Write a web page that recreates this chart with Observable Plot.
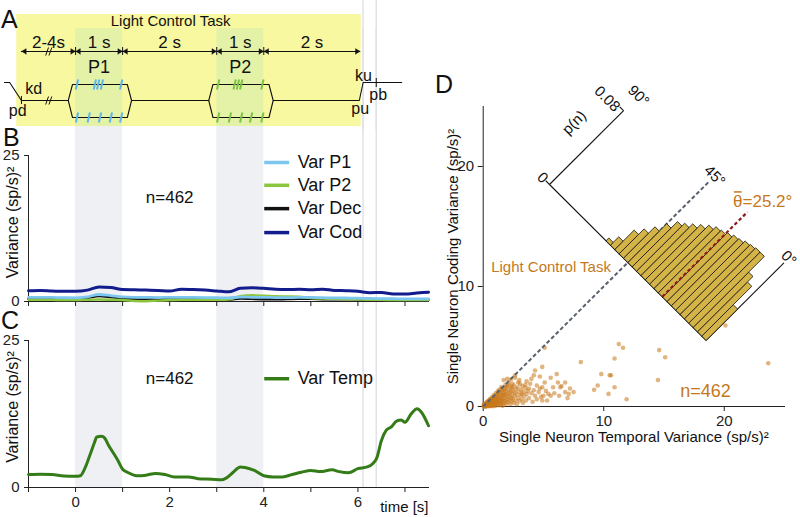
<!DOCTYPE html>
<html><head><meta charset="utf-8">
<script src="https://cdn.jsdelivr.net/npm/d3@7"></script>
<script src="https://cdn.jsdelivr.net/npm/@observablehq/plot@0.6"></script>
<style>
body{margin:0;background:#fff;}
#fig{position:relative;width:800px;height:517px;overflow:hidden;font-family:"Liberation Sans",Arial,Helvetica,sans-serif;}
</style></head><body><div id="fig"></div>
<script>
// ================= DATA =================
// Panel A: task epochs (s)
const epochStart = [-1.15, 0, 1, 3, 4];
const epochEnd   = [0, 1, 3, 4, 6.05];
const epochLabel = ["2-4s", "1 s", "2 s", "1 s", "2 s"];
const stimName  = ["P1", "P2"];
const stimStart = [0, 3];
const stimEnd   = [1, 4];
const hexStart  = [-0.155, 2.83];
const hexEnd    = [1.19, 4.2];
const p1TopTicks = [0.03, 0.41, 0.48, 0.56, 0.97];
const p1BotTicks = [0.03, 0.28, 0.52, 0.75, 0.97];
const p2TopTicks = [3.03, 3.38, 3.45, 3.52, 3.97];
const p2BotTicks = [3.03, 3.28, 3.52, 3.73, 3.97];
const eventName = ["pd", "pu", "ku", "pb"];
const eventTime = [-1.15, 6.03, 6.11, 6.39];
const eventLines = [6.11, 6.39];
const timeTicks = [-1, 0, 1, 2, 3, 4, 5, 6, 7];

// Panel B: population variance components (sp/s)^2
const tB = [-1,-0.75,-0.5,-0.25,0,0.25,0.5,0.75,1,1.25,1.5,1.75,2,2.25,2.5,2.75,3,3.25,3.5,3.75,4,4.25,4.5,4.75,5,5.25,5.5,5.75,6,6.25,6.5,6.75,7,7.25,7.5];
const varP1  = [0.7,0.72,0.7,0.65,0.62,0.8,1.2,1.0,0.8,0.72,0.7,0.68,0.7,0.72,0.7,0.68,0.65,0.62,0.75,0.72,0.7,0.68,0.66,0.7,0.7,0.65,0.62,0.6,0.58,0.52,0.5,0.48,0.45,0.45,0.45];
const varP2  = [0.3,0.28,0.3,0.25,0.25,0.3,0.35,0.3,0.25,0.1,0.05,0.15,0.25,0.3,0.3,0.28,0.3,0.35,0.9,1.05,1.0,0.9,0.85,0.8,0.6,0.5,0.45,0.4,0.35,0.3,0.3,0.25,0.25,0.25,0.25];
const varDec = [0.45,0.5,0.45,0.4,0.4,0.6,0.95,0.75,0.5,0.4,0.35,0.38,0.4,0.42,0.38,0.35,0.35,0.32,0.5,0.45,0.4,0.38,0.42,0.45,0.45,0.4,0.38,0.4,0.35,0.32,0.3,0.28,0.3,0.3,0.3];
const varCod = [1.85,1.9,1.8,1.75,1.75,1.95,2.5,2.4,2.05,2.0,1.95,1.9,1.8,2.1,2.05,1.95,1.8,1.65,2.25,2.35,2.25,2.1,2.05,2.1,2.0,2.1,1.9,1.85,1.75,1.5,1.55,1.3,1.3,1.45,1.6];
const seriesB = ["Var P1", "Var P2", "Var Dec", "Var Cod"];
const colorsB = ["#7cc6ef", "#8cc63f", "#111111", "#131c8c"];

// Panel C: temporal variance
const tC = [-1,-0.75,-0.5,-0.25,0,0.1,0.2,0.3,0.4,0.45,0.55,0.62,0.7,0.8,0.9,1.0,1.1,1.3,1.5,1.7,1.9,2.1,2.4,2.6,2.9,3.1,3.2,3.35,3.5,3.6,3.8,4.0,4.2,4.4,4.6,4.8,5.0,5.2,5.45,5.6,5.8,6.0,6.2,6.32,6.4,6.5,6.6,6.71,6.82,6.92,7.0,7.13,7.26,7.35,7.5];
const varTemp = [2.2,2.25,2.2,1.95,1.9,2.0,3.3,5.4,7.6,8.6,8.7,8.4,7.2,5.9,4.6,3.1,2.6,2.0,2.1,2.4,2.2,1.8,1.8,1.5,1.4,1.3,1.6,2.6,3.5,3.4,2.9,2.0,1.8,1.8,2.2,2.6,2.9,2.7,3.0,2.7,2.5,3.2,3.5,4.1,5.0,8.0,9.7,10.3,11.3,11.5,11.1,12.5,13.4,12.8,10.5];
const nNeurons = 462;

// Panel D: single neurons [temporal variance, coding variance]
const neuronVar = [
[11.25,5.2],[11.6,4.9],[10.9,4.0],[14.6,4.7],[15.1,4.1],[14.5,2.2],[11.9,0.6],[10.9,1.6],[10.6,2.6],[9.8,2.7],
[9.5,1.75],[9.2,1.4],[10.4,1.05],[8.1,3.7],[23.65,3.6],[5.1,4.9],[4.9,3.3],[4.3,3.0],[6.1,2.7],[20.1,6.75],
[4.7,2.5],[4.2,2.6],[5.6,2.4],[6.2,2.0],[6.8,2.0],[7.2,1.5],[6.8,1.2],[7.0,0.7],[5.8,1.6],[5.4,1.05],
[5.6,0.9],[5.0,0.9],[4.7,1.5],[4.45,1.75],[4.45,0.6],[4.9,0.5],[3.8,1.5],[3.5,1.8],[2.9,2.0],[2.4,1.6],
[3.2,1.05],[1.7,2.2],[10.5,2.6],[4.0,2.3],[5.1,2.0],[4.9,1.6],[6.4,1.6],[7.1,1.05],[2.65,2.6],
[0.05,0.03],[0.08,0.1],[0.12,0.06],[0.15,0.14],[0.18,0.02],[0.2,0.2],[0.22,0.09],[0.26,0.15],[0.28,0.27],[0.3,0.05],
[0.33,0.19],[0.35,0.32],[0.37,0.11],[0.4,0.24],[0.42,0.38],[0.44,0.07],[0.47,0.3],[0.5,0.16],[0.52,0.45],[0.55,0.22],
[0.57,0.36],[0.6,0.1],[0.62,0.52],[0.65,0.28],[0.67,0.42],[0.7,0.18],[0.72,0.6],[0.75,0.33],[0.78,0.48],[0.8,0.12],
[0.82,0.68],[0.85,0.25],[0.88,0.55],[0.9,0.4],[0.92,0.76],[0.95,0.2],[0.98,0.62],[1.0,0.35],[1.02,0.85],[1.05,0.5],
[1.08,0.15],[1.1,0.7],[1.12,0.95],[1.15,0.42],[1.18,0.58],[1.2,0.28],[1.22,1.05],[1.25,0.8],[1.28,0.5],[1.3,0.1],
[1.32,0.65],[1.35,1.15],[1.38,0.38],[1.4,0.9],[1.43,0.55],[1.45,1.25],[1.48,0.22],[1.5,0.75],[1.53,1.0],[1.55,0.45],
[1.58,1.35],[1.6,0.6],[1.63,0.3],[1.65,1.1],[1.68,0.85],[1.7,1.45],[1.73,0.5],[1.75,0.15],[1.78,1.2],[1.8,0.7],
[1.83,1.55],[1.85,0.4],[1.88,0.95],[1.9,1.3],[1.93,0.25],[1.95,1.65],[1.98,0.6],[2.0,1.05],[2.03,1.8],[2.05,0.8],
[2.08,0.35],[2.1,1.4],[2.13,2.0],[2.15,0.55],[2.18,1.15],[2.2,0.9],[2.23,1.7],[2.25,0.2],[2.28,1.25],[2.3,2.25],
[2.33,0.7],[2.35,1.5],[2.38,0.45],[2.4,1.0],[2.43,1.9],[2.45,0.65],[2.5,1.3],[2.53,0.3],[2.55,1.75],[2.6,0.85],
[2.63,1.15],[2.65,2.4],[2.7,0.5],[2.73,1.45],[2.78,1.0],[2.8,0.2],[2.85,1.6],[2.9,0.7],[2.95,1.25],[3.0,0.45],
[3.05,1.9],[3.1,0.95],[3.15,1.4],[3.2,0.6],[3.25,1.7],[3.3,0.3],[3.35,1.2],[3.4,0.85],[3.5,1.55],[3.55,0.5],
[3.6,1.05],[3.7,1.3],[3.8,0.7],[3.9,1.9],[4.0,1.1],[4.1,0.4],[4.2,1.35],[4.3,0.9],[4.6,1.2],[4.8,0.8],
[5.2,1.3],[5.3,0.5],[5.9,1.1],[6.3,0.9],[6.5,1.7],[7.5,1.2],[3.0,2.2],[3.6,2.1],[2.0,2.3],[1.5,1.6],
[1.2,1.25],[0.9,0.95],[0.6,0.65],[0.1,0.0],[0.2,0.0],[0.3,0.02],[0.05,0.15],[0.12,0.2],[0.4,0.05],[0.5,0.02],
[0.6,0.04],[0.7,0.06],[0.8,0.03],[0.9,0.1],[1.0,0.05],[1.1,0.25],[1.25,0.35],[1.4,0.15],[1.6,0.05],[1.7,0.95],
[0.35,0.42],[0.45,0.5],[0.25,0.3],[0.55,0.58],[1.05,1.1],[1.3,1.38],[0.75,0.8],[1.55,1.5],[1.85,1.8]
];
// angular histogram of theta = atan(coding/temporal), 2.5 deg bins
const binLo = [0,2.5,5,7.5,10,12.5,15,17.5,20,22.5,25,27.5,30,32.5,35,37.5,40,42.5,45,47.5,50,52.5,55];
const binP  = [0.034,0.054,0.060,0.077,0.077,0.076,0.075,0.073,0.072,0.070,0.068,0.067,0.064,0.060,0.056,0.052,0.049,0.042,0.034,0.027,0.021,0.009,0.003];
const binWidth = 2.5;
const meanTheta = 25.2;
const pAxisMax = 0.08;

// ================= LAYOUT =================
const fig = document.getElementById("fig");
const font = '"Liberation Sans", Arial, Helvetica, sans-serif';
function place(el, left, top) {
  el.style.position = "absolute"; el.style.left = left + "px"; el.style.top = top + "px";
  fig.appendChild(el);
}
const X = {domain: [-1, 7.5]};
const LM = 28, RM = 12, LW = 440;

// ---- background: stimulus bands & event lines spanning A-C ----
const stimBands = stimStart.map((s, i) => ({start: s, end: stimEnd[i], name: stimName[i]}));
place(Plot.plot({
  width: LW, height: 517, marginLeft: LM, marginRight: RM, marginTop: 28, marginBottom: 30,
  x: {...X, axis: null}, y: {domain: [0, 1], axis: null},
  style: {background: "transparent"},
  marks: [
    Plot.rect(stimBands, {x1: "start", x2: "end", fill: "#eef0f3"}),
    Plot.ruleX(eventLines, {stroke: "#e0e3e8", strokeWidth: 1.5})
  ]
}), 0, 0);

// ---- Panel A ----
const LV = {title: 21, dur: 42, arrow: 51, plab: 67, up: 82, top: 84, mid: 100, bot: 117, yTop: 14, yBot: 126, bandTop: 28};
const rise = 0.09;
const schem = [];
function seg(id, pts) { pts.forEach(([t, l]) => schem.push({id, t, l})); }
seg(0, [[-1.51, LV.up], [-1.40, LV.up], [eventTime[0], LV.mid], [hexStart[0], LV.mid]]);
hexStart.forEach((h0, i) => {
  const h1 = hexEnd[i];
  seg(1 + i, [[h0, LV.mid], [h0 + rise, LV.top], [h1 - rise, LV.top], [h1, LV.mid], [h1 - rise, LV.bot], [h0 + rise, LV.bot], [h0, LV.mid]]);
});
seg(3, [[hexEnd[0], LV.mid], [hexStart[1], LV.mid]]);
seg(4, [[hexEnd[1], LV.mid], [eventTime[1], LV.mid], [eventTime[2], LV.up], [6.93, LV.up]]);

const heads = [];
const hl = 0.1, hw = 2.8;
epochStart.forEach((s, i) => {
  const e = epochEnd[i];
  [[s, 0], [s + hl, -hw], [s + hl, hw]].forEach(([t, d]) => heads.push({id: "a" + i, t, l: LV.arrow + d}));
  [[e, 0], [e - hl, -hw], [e - hl, hw]].forEach(([t, d]) => heads.push({id: "b" + i, t, l: LV.arrow + d}));
});
const breakT = -0.57;
const slashes = [];
[LV.arrow, LV.mid].forEach(l => [-0.035, 0.035].forEach(o => slashes.push({t: breakT + o, l})));
const tickRows = (arr, l) => arr.map(t => ({t, l}));
const epochs = epochStart.map((s, i) => ({s, e: epochEnd[i], label: epochLabel[i]}));
const evLabels = [
  {text: "pd", t: -1.23, l: 110}, {text: "kd", t: -0.89, l: 88},
  {text: "ku", t: 6.12, l: 75}, {text: "pb", t: 6.43, l: 94}, {text: "pu", t: 6.05, l: 108}
];

place(Plot.plot({
  width: LW, height: 130, marginLeft: LM, marginRight: RM, marginTop: 0, marginBottom: 0,
  x: {...X, axis: null}, y: {domain: [0, 130], range: [0, 130], axis: null},
  style: {background: "transparent", fontFamily: font},
  marks: [
    Plot.rect([{a: -1.25, b: 6.07}], {x1: "a", x2: "b", y1: () => LV.yTop, y2: () => LV.yBot, fill: "#f8f8a0"}),
    Plot.rect(stimBands, {x1: "start", x2: "end", y1: () => LV.bandTop, y2: () => LV.yBot, fill: "#e4f2a8"}),
    Plot.ruleX(eventLines, {y1: () => 0, y2: () => 130, stroke: "#e0e3e8", strokeWidth: 1.5}),
    Plot.text(["Light Control Task"], {x: () => 2.02, y: () => LV.title, text: d => d, fontSize: 15, fill: "#111"}),
    Plot.text(epochs, {x: d => (d.s + d.e) / 2, y: () => LV.dur, text: "label", fontSize: 17, fill: "#111"}),
    Plot.ruleY([LV.arrow], {x1: () => epochStart[0], x2: () => epochEnd[4], stroke: "#111", strokeWidth: 1}),
    Plot.line(heads, {x: "t", y: "l", z: "id", fill: "#111", stroke: "#111", strokeWidth: 0.5}),
    Plot.ruleX([0, 1, 3, 4], {y1: () => LV.arrow - 4, y2: () => LV.arrow + 4, stroke: "#111", strokeWidth: 1}),
    Plot.link(slashes, {x1: d => d.t - 0.03, x2: d => d.t + 0.03, y1: d => d.l + 4, y2: d => d.l - 4, stroke: "#111", strokeWidth: 1}),
    Plot.text(stimBands, {x: d => (d.start + d.end) / 2, y: () => LV.plab, text: "name", fontSize: 18, fill: "#111"}),
    Plot.line(schem, {x: "t", y: "l", z: "id", stroke: "#111", strokeWidth: 1.1}),
    Plot.ruleX([eventTime[0]], {y1: () => LV.mid - 4, y2: () => LV.mid + 4, stroke: "#111", strokeWidth: 1}),
    Plot.ruleX([eventTime[3]], {y1: () => LV.up - 4, y2: () => LV.up + 5, stroke: "#111", strokeWidth: 1}),
    Plot.text(evLabels, {x: "t", y: "l", text: "text", fontSize: 16, fill: "#111"}),
    Plot.link([...tickRows(p1TopTicks, LV.top), ...tickRows(p1BotTicks, LV.bot)], {x1: d => d.t - 0.025, x2: d => d.t + 0.025, y1: d => d.l + 5, y2: d => d.l - 5, stroke: "#5cb6e8", strokeWidth: 2}),
    Plot.link([...tickRows(p2TopTicks, LV.top), ...tickRows(p2BotTicks, LV.bot)], {x1: d => d.t - 0.025, x2: d => d.t + 0.025, y1: d => d.l + 5, y2: d => d.l - 5, stroke: "#7dc242", strokeWidth: 2})
  ]
}), 0, 0);

// ---- Panel B ----
const rowsB = tB.map((t, i) => ({t, p1: varP1[i], p2: varP2[i], dec: varDec[i], cod: varCod[i]}));
const legendB = seriesB.map((name, i) => ({name, color: colorsB[i], v: [23.8, 19.9, 15.9, 11.8][i]}));
place(Plot.plot({
  width: LW, height: 190, marginLeft: LM, marginRight: RM, marginTop: 25, marginBottom: 19,
  x: {...X, ticks: timeTicks, tickFormat: () => "", tickSize: 5, line: true, label: null},
  y: {domain: [0, 25], ticks: [0, 25], tickSize: 4, line: true, label: null},
  style: {background: "transparent", fontFamily: font, fontSize: "15px", color: "#222"},
  marks: [
    Plot.line(rowsB, {x: "t", y: "dec", stroke: colorsB[2], strokeWidth: 2.5, curve: "monotone-x"}),
    Plot.line(rowsB, {x: "t", y: "p2", stroke: colorsB[1], strokeWidth: 2.5, curve: "monotone-x"}),
    Plot.line(rowsB, {x: "t", y: "p1", stroke: colorsB[0], strokeWidth: 2.8, curve: "monotone-x"}),
    Plot.line(rowsB, {x: "t", y: "cod", stroke: colorsB[3], strokeWidth: 3, curve: "monotone-x"}),
    Plot.ruleY(legendB, {y: "v", x1: () => 4.02, x2: () => 4.55, stroke: "color", strokeWidth: 3.5}),
    Plot.text(legendB, {y: "v", x: () => 4.72, text: "name", textAnchor: "start", fontSize: 18, fill: "#111"}),
    Plot.text([`n=${nNeurons}`], {x: () => 2.0, y: () => 17.8, text: d => d, fontSize: 17, fill: "#111"}),
    Plot.text(["Variance (sp/s)²"], {frameAnchor: "left", textAnchor: "middle", lineAnchor: "middle", dx: -16, dy: -6, rotate: -90, text: d => d, fontSize: 16, fill: "#111"})
  ]
}), 0, 130);

// ---- Panel C ----
const rowsC = tC.map((t, i) => ({t, v: varTemp[i]}));
place(Plot.plot({
  width: LW, height: 197, marginLeft: LM, marginRight: RM, marginTop: 20, marginBottom: 30,
  x: {...X, ticks: timeTicks, tickFormat: d => (d % 2 === 0 ? d : ""), tickSize: 5, line: true, label: null},
  y: {domain: [0, 25], ticks: [0, 25], tickSize: 4, line: true, label: null},
  style: {background: "transparent", fontFamily: font, fontSize: "15px", color: "#222"},
  marks: [
    Plot.line(rowsC, {x: "t", y: "v", stroke: "#347c18", strokeWidth: 3, curve: "monotone-x"}),
    Plot.ruleY([18.5], {x1: () => 4.02, x2: () => 4.55, stroke: "#347c18", strokeWidth: 3.5}),
    Plot.text(["Var Temp"], {x: () => 4.72, y: () => 18.5, text: d => d, textAnchor: "start", fontSize: 18, fill: "#111"}),
    Plot.text([`n=${nNeurons}`], {x: () => 2.0, y: () => 18.5, text: d => d, fontSize: 17, fill: "#111"}),
    Plot.text(["Variance (sp/s)²"], {frameAnchor: "left", textAnchor: "middle", lineAnchor: "middle", dx: -16, dy: -7, rotate: -90, text: d => d, fontSize: 16, fill: "#111"}),
    Plot.text(["time [s]"], {frameAnchor: "bottom-right", dy: 20, textAnchor: "end", lineAnchor: "middle", text: d => d, fontSize: 15, fill: "#111"})
  ]
}), 0, 320);

// ---- Panel D ----
const s2 = Math.SQRT1_2;
const rose = {ox: 5.5, oy: 18.5, len: 18.38, k: 108.7};
const rosePt = (u, h) => ({x: rose.ox + u * s2 + h * s2, y: rose.oy - u * s2 + h * s2});
const uOf = th => rose.len * (90 - th) / 90;
const barRows = [];
binLo.forEach((lo, i) => {
  const ua = uOf(lo + binWidth), ub = uOf(lo), h = binP[i] * rose.k;
  [[ua, 0], [ub, 0], [ub, h], [ua, h], [ua, 0]].forEach(([u, hh]) => barRows.push({id: i, ...rosePt(u, hh)}));
});
const seg2 = (a, b) => ({x1: a.x, y1: a.y, x2: b.x, y2: b.y});
const pLen = pAxisMax * rose.k;
const roseLines = [
  seg2(rosePt(0, 0), rosePt(rose.len, 0)),          // angle baseline 90°..0°
  seg2(rosePt(0, 0), rosePt(0, pLen)),              // p(n) axis at 90°
  seg2(rosePt(-0.45, 0), rosePt(0, 0)),             // tick 0
  seg2(rosePt(-0.45, pLen), rosePt(0, pLen)),       // tick 0.08
  seg2(rosePt(rose.len, 0), rosePt(rose.len, 0.084 * rose.k)) // 0° axis
];
const diag = [seg2({x: 0, y: 0}, rosePt(uOf(45), 0.087 * rose.k))];
const meanLine = [seg2(rosePt(uOf(meanTheta), 0), rosePt(uOf(meanTheta), 0.092 * rose.k))];
const roseLabels = [
  {text: "0", ...rosePt(-0.8, 0), r: 45},
  {text: "0.08", ...rosePt(-1.66, 8.43), r: 45},
  {text: "90°", ...rosePt(uOf(90), 10.45), r: 45},
  {text: "45°", ...rosePt(uOf(45), 10.2), r: 45},
  {text: "0°", ...rosePt(uOf(0), 9.7), r: 45},
  {text: "p(n)", ...rosePt(-2.2, 5.1), r: -45}
];
const orange = "#c47a1c";
const thX = 20.72, thY = 17.1;
place(Plot.plot({
  width: 380, height: 517, marginLeft: 62.7, marginRight: 16, marginTop: 106, marginBottom: 111,
  x: {domain: [0, 25], ticks: [0, 10, 20], tickSize: 5, line: true, label: null},
  y: {domain: [0, 25], ticks: [0, 10, 20], tickSize: 5, line: true, label: null},
  style: {background: "transparent", fontFamily: font, fontSize: "15px", color: "#222"},
  marks: [
    Plot.dot(neuronVar, {x: d => d[0], y: d => d[1], r: 2.3, fill: "#c8781a", fillOpacity: 0.55, stroke: "none"}),
    Plot.link(diag, {x1: "x1", y1: "y1", x2: "x2", y2: "y2", stroke: "#59636f", strokeWidth: 2, strokeDasharray: "4,2.4"}),
    Plot.link(roseLines, {x1: "x1", y1: "y1", x2: "x2", y2: "y2", stroke: "#111", strokeWidth: 1.1}),
    Plot.line(barRows, {x: "x", y: "y", z: "id", fill: "#d5b447", stroke: "#111", strokeWidth: 0.8}),
    Plot.link(meanLine, {x1: "x1", y1: "y1", x2: "x2", y2: "y2", stroke: "#8b1c1c", strokeWidth: 2.2, strokeDasharray: "3.5,2.5"}),
    Plot.text(roseLabels, {x: "x", y: "y", text: "text", rotate: "r", fontSize: 15, fill: "#111"}),
    Plot.text(["θ"], {x: () => thX, y: () => thY, text: d => d, textAnchor: "start", fontSize: 17, fill: orange}),
    Plot.link([{a: thX + 0.08, b: thX + 0.72}], {x1: "a", x2: "b", y1: () => thY + 0.78, y2: () => thY + 0.78, stroke: orange, strokeWidth: 1.5}),
    Plot.text(["=25.2°"], {x: () => thX + 0.8, y: () => thY, text: d => d, textAnchor: "start", fontSize: 17, fill: orange}),
    Plot.text(["Light Control Task"], {x: () => 5.63, y: () => 11.6, text: d => d, fontSize: 15, fill: orange}),
    Plot.text([`n=${nNeurons}`], {x: () => 18.45, y: () => 1.3, text: d => d, fontSize: 18, fill: orange}),
    Plot.text(["Single Neuron Coding Variance (sp/s)²"], {frameAnchor: "left", textAnchor: "middle", lineAnchor: "middle", dx: -30, rotate: -90, text: d => d, fontSize: 15, fill: "#111"}),
    Plot.text(["Single Neuron Temporal Variance (sp/s)²"], {frameAnchor: "bottom", textAnchor: "middle", lineAnchor: "middle", dy: 31, text: d => d, fontSize: 15, fill: "#111"})
  ]
}), 420, 0);

// ---- panel letters ----
const ov = d3.create("svg").attr("width", 800).attr("height", 517).style("pointer-events", "none");
[["A", 1, 28], ["B", 3, 146], ["C", 1, 329], ["D", 435, 93]].forEach(([t, x, y]) =>
  ov.append("text").attr("x", x).attr("y", y).attr("font-size", 25).attr("font-family", font).attr("fill", "#111").text(t));
place(ov.node(), 0, 0);
</script></body></html>
